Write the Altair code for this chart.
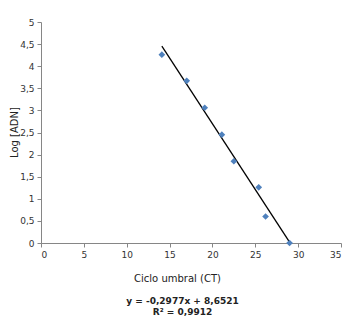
import altair as alt
import pandas as pd

ct = [14.1, 17.0, 19.1, 21.1, 22.5, 25.4, 26.2, 29.0]
log_adn = [4.26, 3.67, 3.06, 2.45, 1.85, 1.26, 0.60, 0.0]
slope = -0.2977
intercept = 8.6521
eq_lines = ["y = -0,2977x  + 8,6521", "R² = 0,9912"]

df = pd.DataFrame({"ct": ct, "log": log_adn})
eq = pd.DataFrame({"t": ["\n".join(eq_lines)]})

FONT = "DejaVu Sans"
W, H = 300, 221

xs = alt.Scale(domain=[0, 35], nice=False)
ys = alt.Scale(domain=[0, 5], nice=False)

xaxis = alt.Axis(values=list(range(0, 36, 5)), grid=False, title="Ciclo umbral (CT)",
                 domainColor="#868686", tickColor="#868686", tickSize=4,
                 labelFont=FONT, labelFontSize=9, labelColor="#333333", labelPadding=3,
                 titleFont=FONT, titleFontSize=10, titleFontWeight="normal", titleColor="#222222",
                 titleX=136, titleY=30, titleAlign="center", titleBaseline="top")
yaxis = alt.Axis(values=[i * 0.5 for i in range(11)], grid=False, title="Log [ADN]",
                 labelExpr="replace(format(datum.value, ''), '.', ',')",
                 domainColor="#868686", tickColor="#868686", tickSize=4,
                 labelFont=FONT, labelFontSize=9, labelColor="#333333", labelPadding=3,
                 titleFont=FONT, titleFontSize=10, titleFontWeight="normal", titleColor="#222222",
                 titleX=-27, titleY=110, titleAlign="center", titleBaseline="middle", titleAngle=270)

pts = alt.Chart(df).mark_point(shape="diamond", filled=True, size=45, color="#4F81BD", opacity=1).encode(
    x=alt.X("ct:Q", scale=xs, axis=xaxis),
    y=alt.Y("log:Q", scale=ys, axis=yaxis),
)

line = alt.Chart(df).transform_aggregate(
    lo="min(ct)", hi="max(ct)"
).transform_fold(["lo", "hi"], as_=["k", "ct"]).transform_calculate(
    log=f"{slope} * datum.ct + {intercept}"
).mark_line(color="black", strokeWidth=1.3).encode(
    x=alt.X("ct:Q", scale=xs, axis=xaxis),
    y=alt.Y("log:Q", scale=ys, axis=yaxis),
)

txt = alt.Chart(eq).mark_text(font=FONT, fontSize=9, fontWeight="bold", color="#222222",
                              align="center", baseline="top", lineBreak="\n", lineHeight=11).encode(
    x=alt.value(141.5),
    y=alt.value(275),
    text="t:N",
)

chart = alt.layer(line, pts, txt).properties(
    width=W, height=H,
    padding={"left": 41, "top": 22, "right": 12, "bottom": 88},
    autosize=alt.AutoSizeParams(type="none"),
    background="white",
).configure_view(stroke=None)

chart.save("out.html", embed_options={"renderer": "svg", "actions": False})
